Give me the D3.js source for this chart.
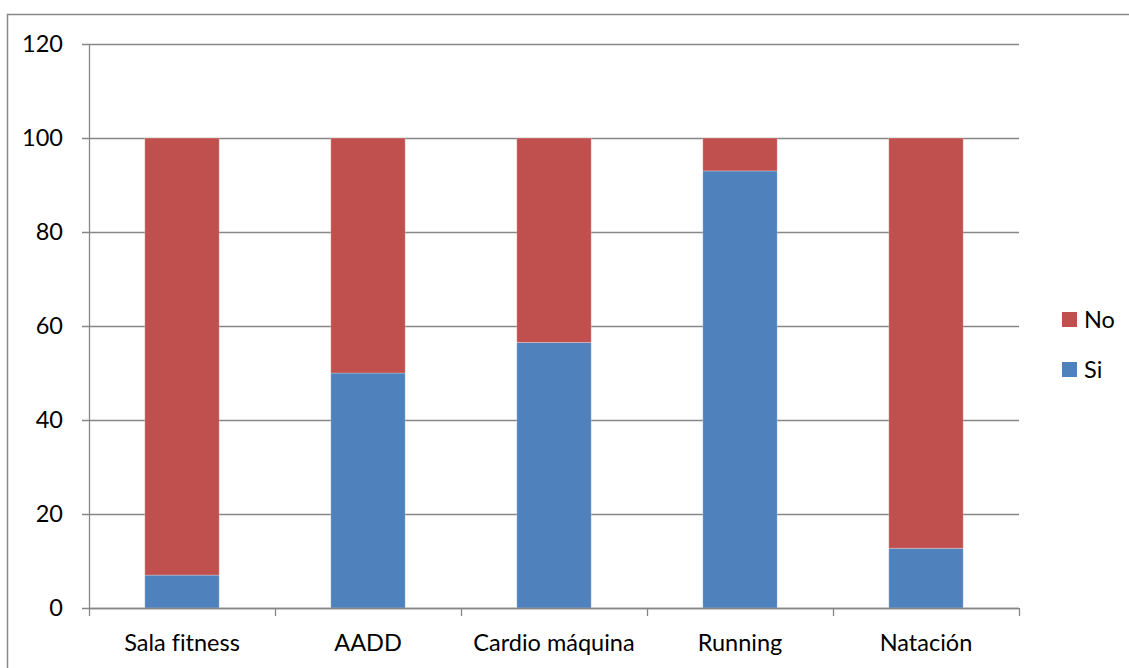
<!DOCTYPE html>
<html>
<head>
<meta charset="utf-8">
<script src="https://cdn.jsdelivr.net/npm/d3@7"></script>
<style>
  html, body { margin: 0; padding: 0; background: #fff; }
  svg { display: block; }
  text { font-family: Lato, "Liberation Sans", sans-serif; fill: #000; font-variant-ligatures: none; }
</style>
</head>
<body>
<svg id="chart" width="1129" height="668"></svg>
<script>
// Share of respondents per activity (percent)
const categories = ["Sala fitness", "AADD", "Cardio máquina", "Running", "Natación"];
const siValues = [7, 50, 56.5, 93, 12.7];
const noValues = [93, 50, 43.5, 7, 87.3];
const seriesNames = ["Si", "No"];
const yTicks = [0, 20, 40, 60, 80, 100, 120];

const colors = { Si: "#4F81BD", No: "#C0504D" };
const gridColor = "#878787";
const fontSize = "23.5px";

const svg = d3.select("#chart");
const margin = { left: 89, right: 1019, top: 44, bottom: 608 };

// Outer chart frame
svg.append("rect")
  .attr("x", 7.5).attr("y", 14.5)
  .attr("width", 1140).attr("height", 680)
  .attr("fill", "none")
  .attr("stroke", "#888")
  .attr("stroke-width", 1.5);

const x = d3.scaleBand()
  .domain(categories)
  .range([margin.left, margin.right])
  .paddingInner(0.6)
  .paddingOuter(0.3);

const xOuter = d3.scaleBand()
  .domain(categories)
  .range([margin.left, margin.right]);

const y = d3.scaleLinear()
  .domain([0, 120])
  .range([margin.bottom, margin.top]);

// Horizontal gridlines
svg.append("g")
  .selectAll("line")
  .data(yTicks)
  .join("line")
  .attr("x1", margin.left - 7)
  .attr("x2", margin.right)
  .attr("y1", d => Math.round(y(d)) + 0.5)
  .attr("y2", d => Math.round(y(d)) + 0.5)
  .attr("stroke", gridColor)
  .attr("stroke-width", 1.3);

// Y tick labels
svg.append("g")
  .selectAll("text")
  .data(yTicks)
  .join("text")
  .attr("x", 63)
  .attr("y", d => y(d))
  .attr("dy", "0.35em")
  .attr("text-anchor", "end")
  .style("font-size", fontSize)
  .text(d => d);

// Stacked bars
const rows = categories.map((c, i) => ({ cat: c, Si: siValues[i], No: noValues[i] }));
const stack = d3.stack().keys(seriesNames)(rows);

svg.append("g")
  .selectAll("g")
  .data(stack)
  .join("g")
  .attr("fill", d => colors[d.key])
  .selectAll("rect")
  .data(d => d)
  .join("rect")
  .attr("x", d => x(d.data.cat))
  .attr("width", x.bandwidth())
  .attr("y", d => y(d[1]))
  .attr("height", d => y(d[0]) - y(d[1]))
  .attr("stroke", "rgba(255,255,255,0.25)")
  .attr("stroke-width", 1);

// Left axis line
svg.append("line")
  .attr("x1", margin.left + 0.5).attr("x2", margin.left + 0.5)
  .attr("y1", margin.top).attr("y2", margin.bottom + 8)
  .attr("stroke", gridColor).attr("stroke-width", 1.3);

// Bottom axis line and category ticks
svg.append("line")
  .attr("x1", margin.left).attr("x2", margin.right)
  .attr("y1", margin.bottom + 0.5).attr("y2", margin.bottom + 0.5)
  .attr("stroke", gridColor).attr("stroke-width", 1.3);

const boundaries = categories.map(c => xOuter(c) + xOuter.bandwidth());
svg.append("g")
  .selectAll("line")
  .data(boundaries)
  .join("line")
  .attr("x1", d => Math.round(d) + 0.5)
  .attr("x2", d => Math.round(d) + 0.5)
  .attr("y1", margin.bottom)
  .attr("y2", margin.bottom + 8)
  .attr("stroke", gridColor).attr("stroke-width", 1.3);

// Category labels
svg.append("g")
  .selectAll("text")
  .data(categories)
  .join("text")
  .attr("x", d => xOuter(d) + xOuter.bandwidth() / 2)
  .attr("y", 651)
  .attr("text-anchor", "middle")
  .style("font-size", fontSize)
  .text(d => d);

// Legend
const legendItems = ["No", "Si"];
const legend = svg.append("g")
  .selectAll("g")
  .data(legendItems)
  .join("g")
  .attr("transform", (d, i) => `translate(1062, ${312 + i * 50})`);

legend.append("rect")
  .attr("width", 15).attr("height", 15)
  .attr("fill", d => colors[d]);

legend.append("text")
  .attr("x", 22)
  .attr("y", 7.5)
  .attr("dy", "0.35em")
  .style("font-size", fontSize)
  .text(d => d);
</script>
</body>
</html>
